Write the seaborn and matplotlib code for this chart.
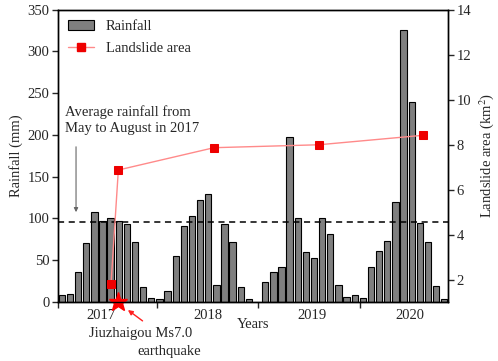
import matplotlib
matplotlib.use("Agg")
import matplotlib.pyplot as plt
import matplotlib.lines as mlines
import matplotlib.patches as mpatches
import numpy as np
import pandas as pd
import seaborn as sns

# Monthly rainfall (mm), Jan 2017 .. Dec 2020
rain_2017 = [7.6, 8.8, 36, 70.6, 107.9, 96.6, 100.2, 96.6, 93.4, 71.4, 17.6, 4]
rain_2018 = [3.2, 12.8, 55.3, 90.6, 102.2, 121.5, 129.5, 20, 93.4, 71.4, 17.2, 3.6]
rain_2019 = [0, 24, 35, 42, 197, 100.7, 59, 52.6, 100, 81, 19.7, 6]
rain_2020 = [8.4, 5, 41, 61, 73, 120, 326, 239, 94, 72, 19, 3]
years = ["2017", "2018", "2019", "2020"]

# Landslide area (km2), position given in month index from Jan 2017
landslide_month = [6.05, 6.95, 18.7, 31.6, 44.4]
landslide_area = [1.84, 6.89, 7.88, 8.01, 8.43]

avg_rain_2017 = 96
quake_month = 6.95

rain = rain_2017 + rain_2018 + rain_2019 + rain_2020
months = [f"{y}-{m:02d}" for y in years for m in range(1, 13)]
df = pd.DataFrame({"month": months, "rain": rain})

sns.set_style("ticks")
plt.rcParams["font.family"] = ["Liberation Serif", "DejaVu Serif"]
plt.rcParams["mathtext.fontset"] = "stix"
fs = 10.5

fig = plt.figure(figsize=(4.98, 3.61), dpi=100)
ax = fig.add_axes([0.1159, 0.1643, 0.7843, 0.8088])

sns.barplot(data=df, x="month", y="rain", color="#7f7f7f", saturation=1,
            edgecolor="black", linewidth=0.8, width=0.78, ax=ax)
ax.set_xlim(-0.5, 47.5)
ax.set_ylim(0, 350)
ax.set_yticks(range(0, 351, 50))
ax.set_ylabel("Rainfall (mm)", fontsize=fs, labelpad=3)
ax.set_xlabel("Years", fontsize=fs)
ax.xaxis.set_label_coords(0.5, -0.055)

# year ticks and labels
ax.set_xticks([-0.5, 11.7, 24.15, 36.6])
ax.set_xticklabels([])
ax.set_xticks([4.8, 17.9, 30.7, 42.8], minor=True)
ax.set_xticklabels(years, minor=True, fontsize=fs)
ax.tick_params(axis="x", which="minor", length=0, pad=5)
ax.tick_params(axis="x", which="major", length=4, width=1, direction="out")
ax.tick_params(axis="y", length=4, width=1, direction="out", labelsize=fs, pad=2)

ax.axhline(avg_rain_2017, color="black", ls=(0, (4, 3)), lw=1.1)

ax2 = ax.twinx()
sns.lineplot(x=landslide_month, y=landslide_area, ax=ax2, color="#ff8a8a",
             lw=1.0, marker="s", markersize=6, markerfacecolor="#ee0000",
             markeredgecolor="#ee0000")
ax2.set_ylim(1.05, 14)
ax2.set_yticks(range(2, 15, 2))
ax2.set_ylabel("Landslide area (km$^2$)", fontsize=fs, labelpad=4)
ax2.tick_params(axis="y", length=4, width=1, direction="out", labelsize=fs, pad=2)

for a in (ax, ax2):
    for s in a.spines.values():
        s.set_linewidth(1.0)
        s.set_color("black")
        s.set_visible(True)

# earthquake star
ax.plot([quake_month], [0], marker="*", color="#ff0000", markersize=14,
        clip_on=False, zorder=10)
ax.annotate("", xy=(quake_month + 0.9, -8), xytext=(10.2, -25),
            annotation_clip=False,
            arrowprops=dict(arrowstyle="-|>", color="#ff2020", lw=1.0,
                            mutation_scale=7))
ax.text(9.7, -37.6, "Jiuzhaigou Ms7.0", ha="center", va="center", fontsize=fs)
ax.text(13.2, -59.3, "earthquake", ha="center", va="center", fontsize=fs)

# average rainfall note
ax.text(0.4, 235, "Average rainfall from\nMay to August in 2017", ha="left",
        va="top", fontsize=fs, linespacing=1.3)
ax.annotate("", xy=(1.75, avg_rain_2017 + 8), xytext=(1.75, 189),
            arrowprops=dict(arrowstyle="-|>", color="#666666", lw=0.8,
                            mutation_scale=6))

handles = [
    mpatches.Patch(facecolor="#7f7f7f", edgecolor="black", linewidth=0.8),
    mlines.Line2D([], [], color="#ff8a8a", lw=1.0, marker="s", markersize=6,
                  markerfacecolor="#ee0000", markeredgecolor="#ee0000"),
]
ax.legend(handles, ["Rainfall", "Landslide area"], loc="upper left",
          frameon=False, fontsize=fs, handlelength=1.8, handletextpad=0.8,
          labelspacing=0.6, borderaxespad=0.3, bbox_to_anchor=(0.0, 1.0))

fig.savefig("out.png", dpi=100)
